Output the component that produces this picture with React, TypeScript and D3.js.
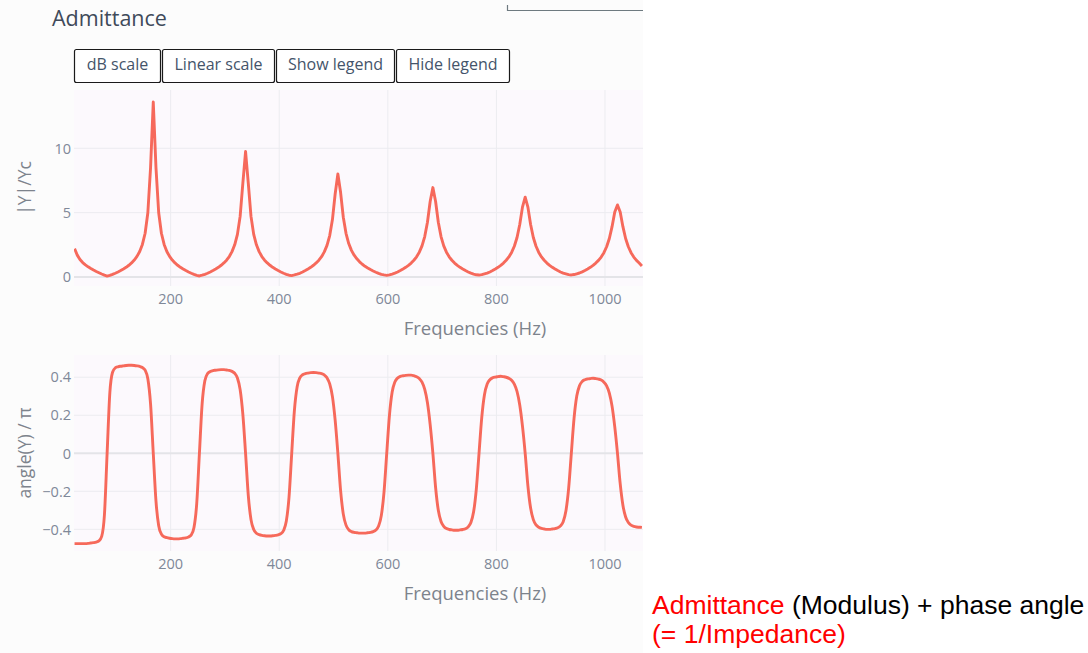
import React from "react";
import * as d3 from "d3";

// ---------- data ----------
// Frequency grid (Hz): first sample and spacing of the measurement
const FREQ_START = 23;
const FREQ_STEP = 5;

// |Y|/Yc modulus
const MODULUS = [
  2.2, 1.7, 1.36, 1.12, 0.94, 0.79, 0.66, 0.54, 0.43, 0.33, 0.23, 0.14, 0.07,
  0.12, 0.2, 0.29, 0.39, 0.5, 0.62, 0.75, 0.91, 1.09, 1.32, 1.6, 1.98, 2.53, 3.4, 4.99, 8.48, 13.6,
  8.48, 4.99, 3.4, 2.53, 1.98, 1.6, 1.32, 1.09, 0.91, 0.75, 0.62, 0.5, 0.39, 0.29, 0.2, 0.12, 0.08,
  0.14, 0.21, 0.29, 0.39, 0.5, 0.62, 0.75, 0.91, 1.09, 1.31, 1.59, 1.97, 2.5, 3.31, 4.71, 7.29, 9.75,
  7.29, 4.71, 3.31, 2.5, 1.97, 1.59, 1.31, 1.09, 0.91, 0.75, 0.62, 0.5, 0.39, 0.29, 0.21, 0.14, 0.11,
  0.16, 0.22, 0.29, 0.39, 0.5, 0.62, 0.75, 0.91, 1.09, 1.31, 1.58, 1.95, 2.46, 3.22, 4.46, 6.45, 8.0,
  6.58, 4.64, 3.39, 2.6, 2.07, 1.69, 1.41, 1.18, 0.99, 0.83, 0.7, 0.58, 0.47, 0.37, 0.28, 0.2, 0.16, 0.13,
  0.17, 0.23, 0.3, 0.39, 0.5, 0.62, 0.75, 0.9, 1.08, 1.3, 1.57, 1.93, 2.42, 3.14, 4.25, 5.87, 6.95,
  5.87, 4.25, 3.14, 2.42, 1.93, 1.57, 1.3, 1.08, 0.9, 0.75, 0.62, 0.5, 0.39, 0.3, 0.23, 0.17, 0.15,
  0.18, 0.24, 0.3, 0.39, 0.5, 0.62, 0.75, 0.9, 1.08, 1.3, 1.56, 1.91, 2.39, 3.07, 4.08, 5.43, 6.2,
  5.43, 4.08, 3.07, 2.39, 1.91, 1.56, 1.3, 1.08, 0.9, 0.75, 0.62, 0.5, 0.39, 0.3, 0.24, 0.18, 0.16,
  0.19, 0.25, 0.31, 0.4, 0.5, 0.62, 0.75, 0.9, 1.08, 1.29, 1.55, 1.89, 2.35, 2.99, 3.91, 5.05, 5.6,
  5.05, 3.91, 2.99, 2.35, 1.89, 1.55, 1.29, 1.08, 0.85,
];

// angle(Y)/pi
const PHASE = [
  -0.475, -0.475, -0.475, -0.475, -0.475, -0.474, -0.472, -0.47, -0.467, -0.461, -0.437, -0.326, 0,
  0.318, 0.426, 0.449, 0.455, 0.458, 0.46, 0.462, 0.463, 0.463, 0.462, 0.46, 0.457, 0.451, 0.437, 0.392, 0.26, 0,
  -0.252, -0.381, -0.425, -0.439, -0.444, -0.447, -0.449, -0.45, -0.45, -0.449, -0.447, -0.445, -0.44, -0.429, -0.39, -0.266, 0,
  0.26, 0.381, 0.419, 0.43, 0.435, 0.437, 0.439, 0.44, 0.44, 0.438, 0.436, 0.431, 0.421, 0.396, 0.335, 0.205, 0,
  -0.221, -0.349, -0.401, -0.421, -0.428, -0.432, -0.434, -0.435, -0.435, -0.434, -0.432, -0.429, -0.423, -0.406, -0.358, -0.232, 0,
  0.227, 0.35, 0.397, 0.413, 0.419, 0.422, 0.424, 0.425, 0.424, 0.422, 0.419, 0.412, 0.397, 0.365, 0.298, 0.174, 0,
  -0.195, -0.32, -0.378, -0.402, -0.412, -0.416, -0.418, -0.42, -0.42, -0.42, -0.418, -0.416, -0.412, -0.404, -0.383, -0.328, -0.204, 0,
  0.2, 0.322, 0.375, 0.396, 0.405, 0.408, 0.41, 0.411, 0.411, 0.408, 0.403, 0.393, 0.374, 0.336, 0.266, 0.151, 0,
  -0.18, -0.3, -0.359, -0.384, -0.396, -0.401, -0.403, -0.405, -0.405, -0.403, -0.401, -0.397, -0.387, -0.364, -0.308, -0.188, 0,
  0.188, 0.308, 0.364, 0.387, 0.397, 0.401, 0.403, 0.405, 0.403, 0.4, 0.394, 0.384, 0.364, 0.325, 0.254, 0.143, 0,
  -0.171, -0.288, -0.349, -0.377, -0.389, -0.395, -0.398, -0.4, -0.4, -0.398, -0.396, -0.392, -0.382, -0.36, -0.304, -0.186, 0,
  0.184, 0.301, 0.355, 0.378, 0.387, 0.391, 0.393, 0.395, 0.393, 0.39, 0.385, 0.374, 0.355, 0.317, 0.248, 0.139, 0,
  -0.16, -0.273, -0.335, -0.364, -0.378, -0.385, -0.388, -0.389, -0.39,
];

const X_TICKS = [200, 400, 600, 800, 1000];
const MOD_TICKS = [0, 5, 10];
const PHASE_TICKS = [-0.4, -0.2, 0, 0.2, 0.4];
const BUTTONS = ["dB scale", "Linear scale", "Show legend", "Hide legend"];

const TITLE = "Admittance";
const X_TITLE = "Frequencies (Hz)";
const MOD_TITLE = "|Y|/Yc";
const PHASE_TITLE = "angle(Y) / π";

// ---------- styles / layout ----------
const FONT = "'Open Sans', verdana, arial, sans-serif";
const LINE_COLOR = "#f6695b";
const GRID = "#ececf0";
const TICK_COLOR = "#7f8898";
const AXT_COLOR = "#7d838c";
const PLOT_BG = "#fcf9fd";

const X0 = 74;
const X1 = 643;
const TOP = { y0: 90, y1: 286 };
const BOT = { y0: 355, y1: 551 };
const BTN_BOXES = [
  [74, 86],
  [162, 112],
  [276, 118],
  [396, 113],
];

function fmtPhase(v: number) {
  if (v === 0) return "0";
  const s = Math.abs(v).toFixed(1);
  return v < 0 ? "\u2212" + s : s;
}

export default function App() {
  const n = Math.min(MODULUS.length, PHASE.length);
  const freqs = d3.range(n).map((i) => FREQ_START + i * FREQ_STEP);

  const x = d3.scaleLinear().domain([22, 1070]).range([X0, X1]);
  const yMod = d3.scaleLinear().domain([-0.7, 14.53]).range([TOP.y1, TOP.y0]);
  const yPh = d3.scaleLinear().domain([-0.514, 0.517]).range([BOT.y1, BOT.y0]);

  const modLine = d3
    .line<number>()
    .x((_, i) => x(freqs[i]))
    .y((d) => yMod(d))
    .curve(d3.curveLinear);
  const phLine = d3
    .line<number>()
    .x((_, i) => x(freqs[i]))
    .y((d) => yPh(d))
    .curve(d3.curveMonotoneX);

  const modPath = modLine(MODULUS.slice(0, n)) || "";
  const phPath = phLine(PHASE.slice(0, n)) || "";

  const panel = (
    key: string,
    y0: number,
    y1: number,
    yScale: d3.ScaleLinear<number, number>,
    ticks: number[],
    fmt: (v: number) => string,
    path: string,
    yTitle: string
  ) => (
    <g key={key}>
      <defs>
        <clipPath id={"clip-" + key}>
          <rect x={X0} y={y0} width={X1 - X0} height={y1 - y0} />
        </clipPath>
      </defs>
      <rect x={X0} y={y0} width={X1 - X0} height={y1 - y0} fill={PLOT_BG} />
      {X_TICKS.map((t) => (
        <line key={"gx" + t} x1={x(t)} x2={x(t)} y1={y0} y2={y1} stroke={GRID} strokeWidth={1} />
      ))}
      {ticks.map((t) => (
        <line
          key={"gy" + t}
          x1={X0}
          x2={X1}
          y1={yScale(t)}
          y2={yScale(t)}
          stroke={t === 0 ? "#e4e4e8" : GRID}
          strokeWidth={t === 0 ? 2 : 1}
        />
      ))}
      <path
        d={path}
        fill="none"
        stroke={LINE_COLOR}
        strokeWidth={2.9}
        strokeLinejoin="round"
        clipPath={`url(#clip-${key})`}
      />
      {ticks.map((t) => (
        <text
          key={"ty" + t}
          x={71}
          y={yScale(t)}
          dy="0.36em"
          textAnchor="end"
          fontSize={14.5}
          fill={TICK_COLOR}
          fontFamily={FONT}
        >
          {fmt(t)}
        </text>
      ))}
      {X_TICKS.map((t) => (
        <text
          key={"tx" + t}
          x={x(t)}
          y={y1 + 18}
          textAnchor="middle"
          fontSize={14.5}
          fill={TICK_COLOR}
          fontFamily={FONT}
        >
          {t}
        </text>
      ))}
      <text
        x={475}
        y={y1 + 49}
        textAnchor="middle"
        fontSize={18.5}
        fill={AXT_COLOR}
        fontFamily={FONT}
      >
        {X_TITLE}
      </text>
      <text
        transform={`translate(31,${(y0 + y1) / 2}) rotate(-90)`}
        textAnchor="middle"
        fontSize={17.5}
        fill={AXT_COLOR}
        fontFamily={FONT}
      >
        {yTitle}
      </text>
    </g>
  );

  return (
    <svg
      width={1088}
      height={653}
      style={{ position: "fixed", left: 0, top: 0, background: "#ffffff" }}
    >
      <rect x={0} y={0} width={X1} height={653} fill="#fcfcfc" />
      <text x={52} y={26} fontSize={21.5} fill="#3f4a5a" fontFamily={FONT}>
        {TITLE}
      </text>
      <path d="M507.5,5 V10.5 H643" fill="none" stroke="#6e7a80" strokeWidth={1.2} />
      {BUTTONS.map((b, i) => {
        const [bx, bw] = BTN_BOXES[i];
        return (
          <g key={b}>
            <rect
              x={bx + 0.5}
              y={49.5}
              width={bw}
              height={33}
              rx={2}
              fill="#ffffff"
              stroke="#1a1a1a"
              strokeWidth={1.2}
            />
            <text
              x={bx + bw / 2 + 0.5}
              y={70}
              textAnchor="middle"
              fontSize={16}
              fill="#44546a"
              fontFamily={FONT}
            >
              {b}
            </text>
          </g>
        );
      })}
      {panel("mod", TOP.y0, TOP.y1, yMod, MOD_TICKS, (v) => String(v), modPath, MOD_TITLE)}
      {panel("ph", BOT.y0, BOT.y1, yPh, PHASE_TICKS, fmtPhase, phPath, PHASE_TITLE)}
      <text
        x={652}
        y={613.5}
        fontSize={26.5}
        fontFamily="'Liberation Sans', Arial, Helvetica, sans-serif"
        style={{ whiteSpace: "pre" }}
      >
        <tspan fill="#ff0000">Admittance</tspan>
        <tspan fill="#000000"> (Modulus) + phase angle</tspan>
      </text>
      <text
        x={652}
        y={642.5}
        fontSize={26.5}
        fill="#ff0000"
        fontFamily="'Liberation Sans', Arial, Helvetica, sans-serif"
      >
        (= 1/Impedance)
      </text>
    </svg>
  );
}
